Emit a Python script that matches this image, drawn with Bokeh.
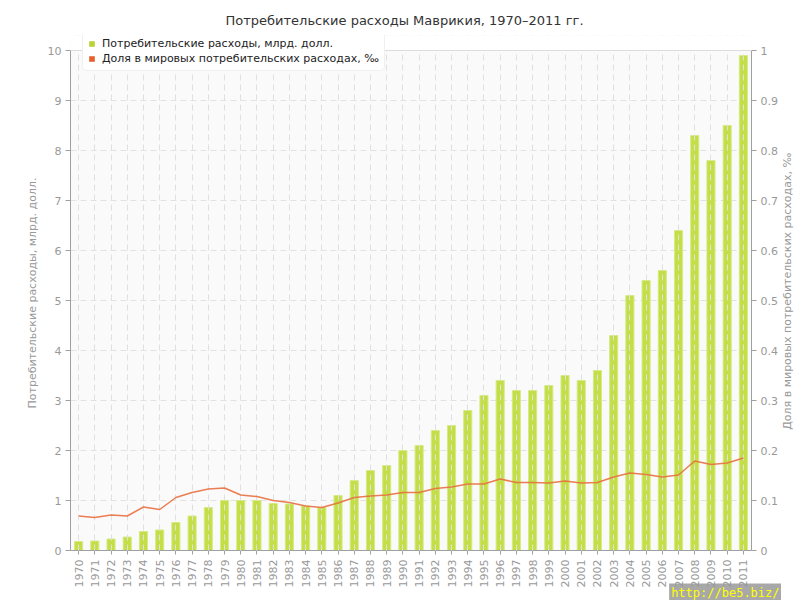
from bokeh.plotting import figure
from bokeh.layouts import row
from bokeh.models import (Range1d, LinearAxis, FactorRange, ColumnDataSource, Legend, LegendItem,
                          CustomJSTickFormatter, FixedTicker, Title, BoxAnnotation, Span, Label)
from bokeh.embed import file_html
from bokeh.resources import INLINE
import math

years = [str(y) for y in range(1970, 2012)]
spending = [0.18, 0.19, 0.23, 0.27, 0.38, 0.41, 0.56, 0.69, 0.86, 1.0,
            1.0, 1.0, 0.94, 0.93, 0.89, 0.86, 1.1, 1.4, 1.6, 1.7,
            2.0, 2.1, 2.4, 2.5, 2.8, 3.1, 3.4, 3.2, 3.2, 3.3,
            3.5, 3.4, 3.6, 4.3, 5.1, 5.4, 5.6, 6.4, 8.3, 7.8,
            8.5, 9.9]
share = [0.069, 0.066, 0.071, 0.069, 0.087, 0.082, 0.106, 0.116, 0.123, 0.125,
         0.111, 0.108, 0.100, 0.096, 0.089, 0.086, 0.095, 0.106, 0.109, 0.111,
         0.116, 0.116, 0.124, 0.127, 0.133, 0.133, 0.143, 0.136, 0.136, 0.135,
         0.139, 0.135, 0.136, 0.147, 0.155, 0.152, 0.147, 0.151, 0.179, 0.172,
         0.175, 0.185]
left_ticks = list(range(0, 11))
right_ticks = [i / 10 for i in range(11)]

title_text = "Потребительские расходы Маврикия, 1970–2011 гг."
left_label = "Потребительские расходы, млрд. долл."
right_label = "Доля в мировых потребительских расходах, ‰"
watermark = "http://be5.biz/"
FONT = "DejaVu Sans"
GRAY = "#a0a0a0"

# frame is a bit taller than the 0..10 area so the legend may sit above the top line
LEFT_MAX, RIGHT_MAX = 10, 1
EXTRA = 515 / 500
TOTAL_H = 600

src = ColumnDataSource(dict(year=years, spending=spending, share=share))

p = figure(x_range=FactorRange(*years, range_padding=0), y_range=Range1d(0, LEFT_MAX * EXTRA),
           frame_width=681, frame_height=515, output_backend="svg", toolbar_location=None,
           min_border_left=70, min_border_right=30, min_border_top=35, min_border_bottom=50)
t = Title(text=title_text, align="left", offset=155, text_font=FONT, text_font_size="13px",
          text_color="#333333", text_font_style="normal", standoff=16)
p.add_layout(t, "above")

p.background_fill_color = "#fafafa"
p.border_fill_color = "white"
p.outline_line_color = None

p.extra_y_ranges = {"share": Range1d(0, RIGHT_MAX * EXTRA)}

bars = p.vbar(x="year", top="spending", width=0.5, source=src,
              fill_color="#c4de47", line_color="#d6ea85", line_width=1)
line = p.line(x="year", y="share", y_range_name="share", source=src,
              line_color="#e8703f", line_width=1.5, line_alpha=0.9)
line.level = "overlay"

# grids
p.xgrid.grid_line_color = "#e0e0e0"
p.xgrid.grid_line_dash = "6 4"
p.xgrid.level = "annotation"
p.ygrid.grid_line_color = "#e2e2e2"
p.ygrid.grid_line_dash = "6 4"
p.ygrid.ticker = FixedTicker(ticks=left_ticks)

# white strip above the top of the value area, and the top border line
p.add_layout(BoxAnnotation(bottom=LEFT_MAX, fill_color="white", fill_alpha=1,
                           line_color=None, level="annotation"))
p.add_layout(Span(location=LEFT_MAX, dimension="width", line_color="#dcdcdc",
                  line_width=1, level="annotation"))

# left axis
ya = p.yaxis[0]
ya.ticker = FixedTicker(ticks=left_ticks)
ya.axis_label = left_label
ya.bounds = (0, LEFT_MAX)

# right axis (ticks and numbers)
ra = LinearAxis(y_range_name="share",
                ticker=FixedTicker(ticks=right_ticks),
                formatter=CustomJSTickFormatter(code="return String(Math.round(tick*10)/10);"))
ra.bounds = (0, RIGHT_MAX)
p.add_layout(ra, "right")

xa = p.xaxis[0]
xa.major_label_orientation = math.pi / 2

for ax in [ya, ra, xa]:
    ax.axis_line_color = GRAY
    ax.major_tick_line_color = GRAY
    ax.minor_tick_line_color = None
    ax.major_tick_out = 5
    ax.major_tick_in = 0
    ax.major_label_text_color = "#999999"
    ax.major_label_text_font = FONT
    ax.major_label_text_font_size = "11px"
    ax.axis_label_text_color = "#999999"
    ax.axis_label_text_font = FONT
    ax.axis_label_text_font_size = "11px"
    ax.axis_label_text_font_style = "normal"
    ax.major_label_standoff = 4
    ax.axis_label_standoff = 6
xa.major_tick_out = 4
xa.major_label_standoff = 5

# legend proxies (hidden renderers, only used for the legend squares)
lg_bar = p.vbar(x="year", top="spending", width=0.5, source=src,
                fill_color="#b8d432", line_color=None, visible=False)
lg_line = p.vbar(x="year", top="share", width=0.5, source=src, y_range_name="share",
                 fill_color="#e8602c", line_color=None, visible=False)
legend = Legend(items=[LegendItem(label="Потребительские расходы, млрд. долл.", renderers=[lg_bar]),
                       LegendItem(label="Доля в мировых потребительских расходах, ‰", renderers=[lg_line])],
                location=(12, 479), orientation="vertical",
                label_text_font=FONT, label_text_font_size="11px", label_text_color="#222222",
                glyph_width=7, glyph_height=7, label_height=12, label_standoff=7,
                spacing=2, padding=5, margin=0,
                background_fill_color="white", background_fill_alpha=1,
                border_line_color="#e2e2e2", border_line_width=1)
legend.border_radius = 5
p.add_layout(legend, "center")

wm = Title(text=watermark, align="right", text_font="DejaVu Sans Mono", text_font_size="12px",
           text_color="#ffff00", text_font_style="normal",
           background_fill_color="#999999", background_fill_alpha=0.85,
           standoff=-22, offset=-30)
wm.padding = 2
p.add_layout(wm, "below")

# narrow strip on the right holding the right-axis title, reading bottom-to-top
p2 = figure(width=19, height=TOTAL_H, x_range=Range1d(0, 19), y_range=Range1d(0, TOTAL_H),
            x_axis_type=None, y_axis_type=None, output_backend="svg", toolbar_location=None,
            min_border=0)
p2.outline_line_color = None
p2.background_fill_color = "white"
p2.border_fill_color = "white"
p2.add_layout(Label(x=6, y=TOTAL_H - 298, text=right_label, angle=math.pi / 2,
                    text_align="center", text_baseline="middle", text_font=FONT,
                    text_font_size="11px", text_color="#999999"))

layout = row(p, p2, spacing=0)
open("out.html", "w").write(file_html(layout, INLINE))
